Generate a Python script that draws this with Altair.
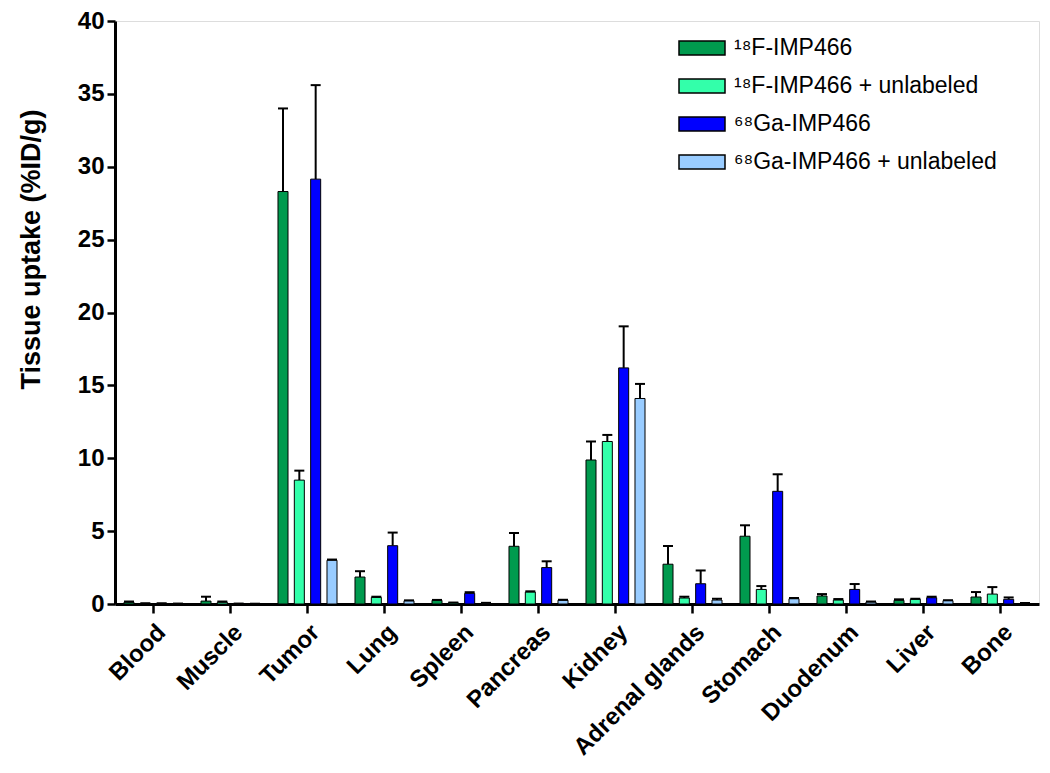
import altair as alt
import pandas as pd

organs = ["Blood", "Muscle", "Tumor", "Lung", "Spleen", "Pancreas", "Kidney",
          "Adrenal glands", "Stomach", "Duodenum", "Liver", "Bone"]
series = ["¹⁸F-IMP466", "¹⁸F-IMP466 + unlabeled", "⁶⁸Ga-IMP466", "⁶⁸Ga-IMP466 + unlabeled"]
colors = ["#009A4E", "#33FFAA", "#0000FF", "#99CCFF"]

f_mean = [0.12, 0.20, 28.3, 1.85, 0.25, 3.96, 9.88, 2.73, 4.65, 0.55, 0.25, 0.48]
f_err = [0.05, 0.30, 5.7, 0.40, 0.03, 0.91, 1.27, 1.25, 0.75, 0.13, 0.07, 0.34]
fu_mean = [0.04, 0.12, 8.5, 0.45, 0.08, 0.82, 11.15, 0.41, 1.00, 0.27, 0.32, 0.68]
fu_err = [0.01, 0.05, 0.65, 0.05, 0.02, 0.05, 0.45, 0.09, 0.23, 0.07, 0.04, 0.48]
g_mean = [0.04, 0.02, 29.15, 4.00, 0.73, 2.50, 16.2, 1.39, 7.73, 1.00, 0.43, 0.32]
g_err = [0.01, 0.01, 6.45, 0.90, 0.08, 0.43, 2.85, 0.91, 1.17, 0.37, 0.07, 0.13]
gu_mean = [0.02, 0.01, 3.0, 0.22, 0.06, 0.26, 14.1, 0.27, 0.36, 0.14, 0.23, 0.05]
gu_err = [0.01, 0.01, 0.05, 0.03, 0.02, 0.03, 1.0, 0.09, 0.05, 0.03, 0.03, 0.02]

means = [f_mean, fu_mean, g_mean, gu_mean]
errs = [f_err, fu_err, g_err, gu_err]

rows = []
for s, m, e in zip(series, means, errs):
    for o, v, d in zip(organs, m, e):
        rows.append({"organ": o, "series": s, "value": v, "err": d, "upper": v + d})
df = pd.DataFrame(rows)

FONT = "Liberation Sans"

x_enc = alt.X("organ:N", sort=organs, title=None,
              scale=alt.Scale(paddingInner=0, paddingOuter=0),
              axis=alt.Axis(labelAngle=-45, labelAlign="right", labelBaseline="top",
                            labelFontSize=24, labelFontWeight="bold", labelFont=FONT,
                            labelColor="black", labelPadding=7, tickSize=9, tickWidth=2.5,
                            tickColor="black", domainColor="black", domainWidth=3,
                            labelLimit=0))
xo_enc = alt.XOffset("series:N", sort=series,
                     scale=alt.Scale(paddingInner=0.387, paddingOuter=0.55))

y_scale = alt.Scale(domain=[0, 40], nice=False)

bars = alt.Chart(df).mark_bar(stroke="black", strokeWidth=1).encode(
    x=x_enc,
    xOffset=xo_enc,
    y=alt.Y("value:Q", scale=y_scale, title="Tissue uptake (%ID/g)",
            axis=alt.Axis(values=list(range(0, 41, 5)), grid=False,
                          labelFontSize=24, labelFontWeight="bold", labelFont=FONT,
                          labelColor="black", labelPadding=3, tickSize=8, tickWidth=2.5,
                          tickColor="black", domainColor="black", domainWidth=3,
                          titleFont=FONT, titleFontSize=27, titleFontWeight="bold",
                          titleColor="black", titleAngle=-90, titleAlign="center",
                          titleBaseline="alphabetic", titleX=-76, titleY=228)),
    color=alt.Color("series:N", sort=series,
                    scale=alt.Scale(domain=series, range=colors),
                    legend=alt.Legend(orient="none", legendX=563, legendY=3, title=None,
                                      symbolType="M-1,-0.3H1V0.3H-1Z", symbolSize=2116,
                                      symbolStrokeColor="black", symbolStrokeWidth=1.5,
                                      symbolOpacity=1, labelFont=FONT, labelFontSize=23,
                                      labelColor="black", labelOffset=8, rowPadding=2,
                                      labelLimit=0, padding=0)),
)

rules = alt.Chart(df).mark_rule(color="black", strokeWidth=2).encode(
    x=alt.X("organ:N", sort=organs),
    xOffset=xo_enc,
    y=alt.Y("value:Q", scale=y_scale),
    y2="upper:Q",
)

caps = alt.Chart(df).mark_tick(color="black", thickness=2, size=10, opacity=1).encode(
    x=alt.X("organ:N", sort=organs),
    xOffset=xo_enc,
    y=alt.Y("upper:Q", scale=y_scale),
)

chart = alt.layer(rules, bars, caps).properties(
    width=924, height=583,
    autosize=alt.AutoSizeParams(type="none"),
    padding={"left": 107, "top": 13, "right": 3, "bottom": 161},
).configure_view(stroke=None).configure(background="white")

chart.save("out.html", embed_options={"renderer": "svg", "actions": False})
